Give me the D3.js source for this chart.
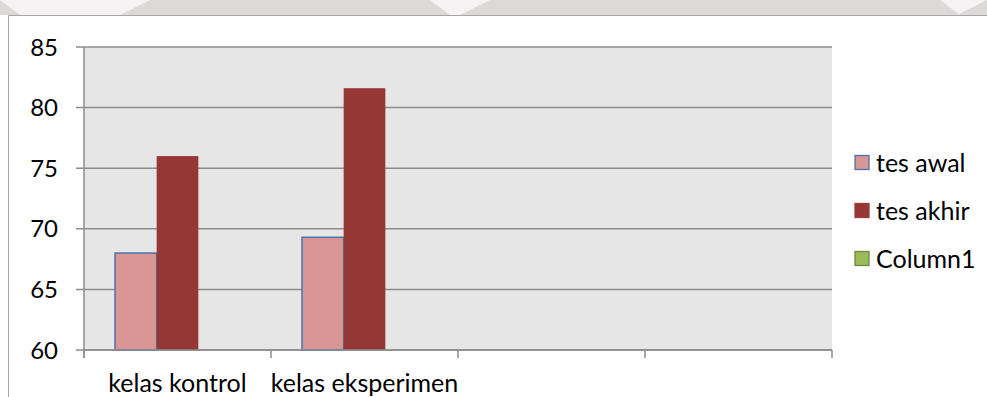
<!DOCTYPE html>
<html>
<head>
<meta charset="utf-8">
<script src="https://cdn.jsdelivr.net/npm/d3@7"></script>
<style>
  body { margin: 0; background: #fff; }
  svg { display: block; font-family: Lato, "Open Sans", sans-serif; }
</style>
</head>
<body>
<div id="chart"></div>
<script>
// data
var categories = ["kelas kontrol", "kelas eksperimen", "c3", "c4"];
var seriesNames = ["tes awal", "tes akhir", "Column1"];
var tesAwal = [68.0, 69.3, null, null];
var tesAkhir = [76.0, 81.6, null, null];
var column1 = [null, null, null, null];
var yTicks = [60, 65, 70, 75, 80, 85];

var fills = ["#d99694", "#953735", "#9bbb59"];
var strokes = ["#4a74a8", "#953735", "#71893f"];

var W = 987, H = 397;
var margin = {top: 47, left: 84, right: 155, bottom: 47};

var svg = d3.select("#chart").append("svg")
    .attr("width", W)
    .attr("height", H);

// faded watermark strip above the chart frame
svg.append("rect").attr("x", 0).attr("y", 0).attr("width", W).attr("height", 15).attr("fill", "#dcd9d9");
[[0, 150], [430, 490], [940, 987]].forEach(function(s){
  svg.append("path")
    .attr("d", "M" + s[0] + ",0 L" + s[1] + ",0 L" + (s[1] - 30) + ",15 L" + (s[0] + 20) + ",15 Z")
    .attr("fill", "#f4f2f2");
});

// chart frame
svg.append("rect").attr("x", 0).attr("y", 15).attr("width", W).attr("height", H - 15).attr("fill", "#fff");
svg.append("path")
    .attr("d", "M8.5," + H + " L8.5,15.5 L" + W + ",15.5")
    .attr("fill", "none")
    .attr("stroke", "#a6a6a6")
    .attr("stroke-width", 1);

var x = d3.scaleBand()
    .domain(categories)
    .range([margin.left, 832]);

var y = d3.scaleLinear()
    .domain([60, 85])
    .range([350, margin.top]);

var gap = 31;
var xs = d3.scaleBand()
    .domain(seriesNames)
    .range([gap, x.bandwidth() - gap])
    .padding(0);

// plot area
svg.append("rect")
    .attr("x", x.range()[0])
    .attr("y", y(85))
    .attr("width", x.range()[1] - x.range()[0])
    .attr("height", y(60) - y(85))
    .attr("fill", "#e6e6e6");

// gridlines
svg.append("g")
    .selectAll("line")
    .data(yTicks)
    .enter().append("line")
      .attr("x1", margin.left - 8)
      .attr("x2", 832)
      .attr("y1", function(d){ return y(d); })
      .attr("y2", function(d){ return y(d); })
      .attr("stroke", "#8c8c8c")
      .attr("stroke-width", 1.5);

// y labels
svg.append("g")
    .selectAll("text")
    .data(yTicks)
    .enter().append("text")
      .attr("x", 58)
      .attr("y", function(d){ return y(d); })
      .attr("dy", "0.36em")
      .attr("text-anchor", "end")
      .attr("font-size", 24)
      .attr("fill", "#000")
      .text(function(d){ return d; });

// bars
var series = [tesAwal, tesAkhir, column1];
series.forEach(function(vals, i){
  svg.append("g")
    .selectAll("rect")
    .data(vals.map(function(v, j){ return {cat: categories[j], v: v}; }).filter(function(d){ return d.v != null; }))
    .enter().append("rect")
      .attr("x", function(d){ return x(d.cat) + xs(seriesNames[i]); })
      .attr("y", function(d){ return y(d.v); })
      .attr("width", xs.bandwidth())
      .attr("height", function(d){ return y(60) - y(d.v); })
      .attr("fill", fills[i])
      .attr("stroke", i === 0 ? strokes[0] : "none")
      .attr("stroke-width", 1.5);
});

// axes lines
svg.append("line")
    .attr("x1", margin.left).attr("x2", margin.left)
    .attr("y1", y(85)).attr("y2", y(60) + 8)
    .attr("stroke", "#8c8c8c").attr("stroke-width", 1.5);
svg.append("line")
    .attr("x1", margin.left).attr("x2", 832)
    .attr("y1", y(60)).attr("y2", y(60))
    .attr("stroke", "#8c8c8c").attr("stroke-width", 1.5);

var xTicks = categories.map(function(c){ return x(c); }).concat([x.range()[1]]);
svg.append("g")
    .selectAll("line")
    .data(xTicks)
    .enter().append("line")
      .attr("x1", function(d){ return d; })
      .attr("x2", function(d){ return d; })
      .attr("y1", y(60))
      .attr("y2", y(60) + 8)
      .attr("stroke", "#8c8c8c")
      .attr("stroke-width", 1.5);

// category labels
svg.append("g")
    .selectAll("text")
    .data(categories.slice(0, 2))
    .enter().append("text")
      .attr("x", function(d){ return x(d) + x.bandwidth() / 2; })
      .attr("y", 392)
      .attr("text-anchor", "middle")
      .attr("font-size", 25)
      .text(function(d){ return d; });

// legend
var legend = svg.append("g")
    .selectAll("g")
    .data(seriesNames)
    .enter().append("g")
      .attr("transform", function(d, i){ return "translate(855," + (162.5 + i * 48) + ")"; });
legend.append("rect")
    .attr("x", 0).attr("y", -7)
    .attr("width", 14).attr("height", 14)
    .attr("fill", function(d, i){ return fills[i]; })
    .attr("stroke", function(d, i){ return i === 1 ? "#a03c3a" : strokes[i]; })
    .attr("stroke-width", 1.3);
legend.append("text")
    .attr("x", 21)
    .attr("dy", "0.36em")
    .attr("font-size", 25)
    .text(function(d){ return d; });
</script>
</body>
</html>
